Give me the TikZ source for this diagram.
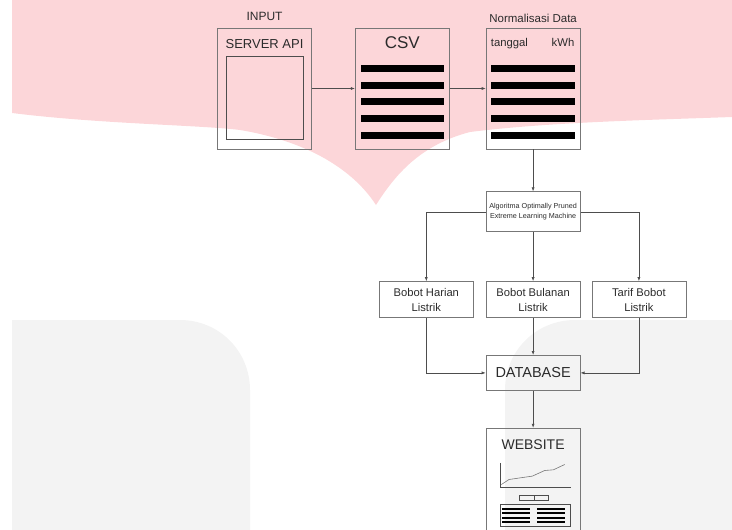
\documentclass[tikz,border=0pt]{standalone}
\usepackage{fontspec}
\setmainfont{Liberation Sans}
\usetikzlibrary{arrows.meta,positioning,calc}
\definecolor{WmPink}{HTML}{FCD6D9}
\definecolor{WmGrey}{HTML}{F3F3F3}
\definecolor{FlowLine}{HTML}{777777}
\definecolor{FlowArrow}{HTML}{4D4D4D}
\definecolor{FlowText}{HTML}{2B2B2B}

\begin{document}
\begin{tikzpicture}[x=1pt, y=-1pt, node distance=43pt and 43pt,
  panel/.style={draw=FlowLine, line width=0.8pt, minimum width=94pt,
    minimum height=121pt, inner sep=0pt},
  stepbox/.style={draw=FlowLine, line width=0.8pt, minimum width=94pt,
    minimum height=36pt, inner sep=1pt, align=center, text=FlowText,
    font=\fontsize{11.2}{15}\selectfont},
  title/.style={text=FlowText, inner sep=0pt},
  flow/.style={-{Latex[length=4pt,width=3pt]}, draw=FlowArrow, line width=0.6pt},
  bar/.style={fill=black}]
  \useasboundingbox (0,0) rectangle (732,530);

  % watermark in the back
  \fill[WmPink] (12,0) -- (732,0) -- (732,117)
    .. controls (650,120) and (550,122) .. (470,132)
    .. controls (420,145) and (395,175) .. (376,205)
    .. controls (350,165) and (300,140) .. (240,130)
    .. controls (200,125) and (100,124) .. (12,113) -- cycle;
  \fill[WmGrey] (12,560) -- (12,320) -- (180,320)
    .. controls (219,320) and (250,351) .. (250,390) -- (250,560) -- cycle;
  \fill[WmGrey] (732,560) -- (505,560) -- (505,390)
    .. controls (505,351) and (536,320) .. (575,320) -- (732,320) -- cycle;

  % top row
  \node[panel, label={[title, font=\fontsize{12}{14}\selectfont,
    label distance=6.5pt]above:INPUT}] (srv) at (264.5,88.5) {};
  \node[panel, right=43pt of srv] (csv) {};
  \node[panel, right=36pt of csv, label={[title, font=\fontsize{11.5}{14}\selectfont,
    label distance=5pt]above:Normalisasi Data}] (norm) {};

  \node[title, font=\fontsize{13}{15}\selectfont, below=11.3pt of srv.north] (srvt) {SERVER API};
  \node[title, font=\fontsize{17}{19}\selectfont, below=9pt of csv.north] (csvt) {CSV};
  \node[title, font=\fontsize{11.3}{13}\selectfont, anchor=base west]
    (tgl) at ([xshift=5pt, yshift=-19pt]norm.north west) {tanggal};
  \node[title, font=\fontsize{11.3}{13}\selectfont, anchor=base east]
    (kwh) at ([xshift=-6pt, yshift=-19pt]norm.north east) {kWh};

  \begin{scope}[shift={(srv.north west)}]
    \draw[FlowArrow, line width=0.8pt] (9.5,29) rectangle (86.5,112);
  \end{scope}
  \begin{scope}[shift={(csv.north west)}]
    \foreach \y in {41,58,74,91,108}
      \fill[bar] (6,\y-3.5) rectangle (89,\y+3.5);
  \end{scope}
  \begin{scope}[shift={(norm.north west)}]
    \foreach \y in {41,58,74,91,108}
      \fill[bar] (5,\y-3.5) rectangle (89,\y+3.5);
  \end{scope}

  % processing
  \node[stepbox, minimum height=40pt, font=\fontsize{7.2}{10}\selectfont,
    below=42pt of norm] (algo) {Algoritma Optimally Pruned\\Extreme Learning Machine};
  \node[stepbox, below=49pt of algo] (bul) {Bobot Bulanan\\Listrik};
  \node[stepbox, left=12pt of bul] (har) {Bobot Harian\\Listrik};
  \node[stepbox, right=11pt of bul] (tar) {Tarif Bobot\\Listrik};
  \node[stepbox, minimum height=35pt, font=\fontsize{14.5}{16}\selectfont,
    below=37pt of bul] (db) {DATABASE};
  \node[stepbox, minimum height=120pt, below=37pt of db] (web) {};
  \node[title, font=\fontsize{14}{16}\selectfont, below=11.5pt of web.north] (webt) {WEBSITE};

  \begin{scope}[shift={(web.north west)}]
    \draw[FlowArrow, line width=0.6pt] (14.3,35) -- (14.3,59) -- (85,59);
    \draw[FlowLine, line width=0.6pt] (15.7,56.7) -- (23.3,51.7) -- (35,50)
      -- (46.7,48.3) -- (59,42.7) -- (67.7,42) -- (79,36.7);
    \draw[FlowArrow, line width=0.6pt] (33.3,67.3) rectangle (48.3,72.3)
      (48.3,67.3) rectangle (62.7,72.3);
    \draw[FlowArrow, line width=0.6pt] (14.3,76.7) rectangle (85,98.3);
    \foreach \y in {80.8,85.3,89.8,94.3} {
      \draw[black, line width=1.8pt] (16.7,\y) -- (44.3,\y);
      \draw[black, line width=1.8pt] (51.7,\y) -- (79.3,\y);
    }
  \end{scope}

  % connectors
  \draw[flow] (srv) -- (csv);
  \draw[flow] (csv) -- (norm);
  \draw[flow] (norm) -- (algo);
  \draw[flow] (algo.west) -| (har.north);
  \draw[flow] (algo) -- (bul);
  \draw[flow] (algo.east) -| (tar.north);
  \draw[flow] (har.south) |- (db.west);
  \draw[flow] (bul) -- (db);
  \draw[flow] (tar.south) |- (db.east);
  \draw[flow] (db) -- (web);
\end{tikzpicture}
\end{document}
